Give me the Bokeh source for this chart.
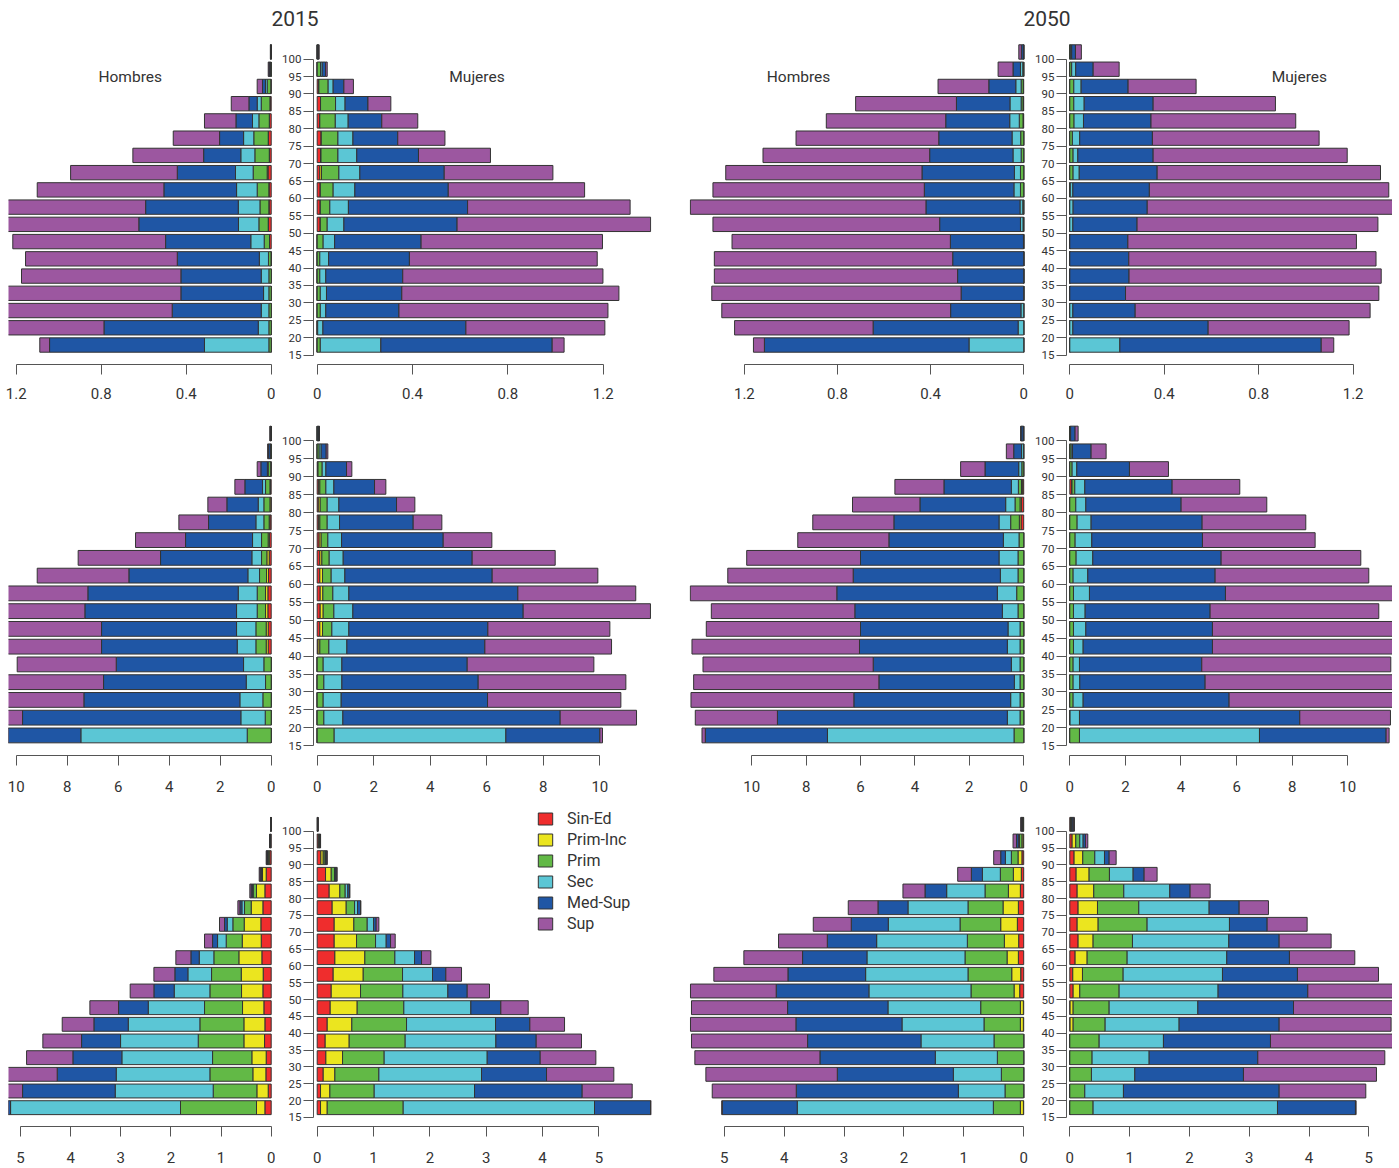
import numpy as np
from bokeh.plotting import figure
from bokeh.models import Range1d, FixedTicker, Label, Legend, LegendItem, ColumnDataSource
from bokeh.layouts import column, row
from bokeh.embed import file_html
from bokeh.resources import INLINE

# ---------------- data ----------------
ages = [15, 20, 25, 30, 35, 40, 45, 50, 55, 60, 65, 70, 75, 80, 85, 90, 95, 100]
educ = ["Sin-Ed", "Prim-Inc", "Prim", "Sec", "Med-Sup", "Sup"]
colors = ["#EF2D2D", "#EBE51F", "#62B946", "#5BC6D5", "#1F56A5", "#9C57A0"]

years = ["2015", "2050"]
sex_labels = ["Hombres", "Mujeres"]

# row 1 (scale 0-1.4)
r1_h2015 = {
    "Sin-Ed":   [0, 0, 0, 0, 0, 0.001, 0.008, 0.014, 0.011, 0.011, 0.015, 0.009, 0.014, 0.009, 0.006, 0.002, 0, 0],
    "Prim-Inc": [0, 0, 0, 0, 0, 0, 0, 0, 0, 0, 0.004, 0, 0, 0, 0, 0, 0, 0],
    "Prim":     [0.011, 0.011, 0.011, 0.011, 0.011, 0.012, 0.025, 0.044, 0.042, 0.055, 0.066, 0.068, 0.068, 0.049, 0.041, 0.017, 0.004, 0.001],
    "Sec":      [0.303, 0.050, 0.036, 0.025, 0.036, 0.043, 0.063, 0.096, 0.102, 0.097, 0.083, 0.066, 0.048, 0.030, 0.019, 0.008, 0.002, 0.001],
    "Med-Sup":  [0.729, 0.726, 0.419, 0.389, 0.378, 0.386, 0.401, 0.469, 0.436, 0.342, 0.274, 0.175, 0.113, 0.078, 0.039, 0.014, 0.004, 0.001],
    "Sup":      [0.046, 0.483, 0.824, 0.875, 0.750, 0.714, 0.719, 0.677, 0.729, 0.596, 0.502, 0.333, 0.218, 0.148, 0.083, 0.025, 0.004, 0.001],
}
r1_m2015 = {
    "Sin-Ed":   [0, 0, 0, 0, 0, 0, 0, 0.013, 0.013, 0.013, 0.011, 0.014, 0.017, 0.011, 0.014, 0.007, 0, 0],
    "Prim-Inc": [0, 0, 0, 0, 0, 0, 0, 0, 0, 0, 0.007, 0.002, 0, 0, 0, 0, 0, 0],
    "Prim":     [0.013, 0.002, 0.013, 0.013, 0.011, 0.011, 0.025, 0.029, 0.040, 0.054, 0.073, 0.071, 0.070, 0.065, 0.063, 0.039, 0.014, 0.002],
    "Sec":      [0.254, 0.022, 0.023, 0.026, 0.025, 0.037, 0.048, 0.070, 0.078, 0.091, 0.088, 0.079, 0.063, 0.054, 0.040, 0.021, 0.007, 0.001],
    "Med-Sup":  [0.719, 0.600, 0.307, 0.316, 0.323, 0.339, 0.363, 0.475, 0.500, 0.392, 0.354, 0.259, 0.188, 0.141, 0.096, 0.045, 0.014, 0.003],
    "Sup":      [0.050, 0.583, 0.877, 0.911, 0.840, 0.788, 0.761, 0.812, 0.682, 0.572, 0.456, 0.302, 0.198, 0.151, 0.096, 0.040, 0.007, 0.002],
}
r1_h2050 = {
    "Sin-Ed":   [0, 0, 0, 0, 0, 0, 0, 0, 0, 0, 0, 0, 0, 0.003, 0.003, 0.002, 0, 0],
    "Prim-Inc": [0, 0, 0, 0, 0, 0, 0, 0, 0, 0, 0, 0, 0, 0, 0, 0, 0, 0],
    "Prim":     [0, 0, 0, 0, 0, 0, 0, 0.003, 0.004, 0.014, 0.014, 0.011, 0.013, 0.016, 0.008, 0.009, 0.004, 0],
    "Sec":      [0.235, 0.024, 0.012, 0, 0, 0, 0.001, 0.011, 0.012, 0.028, 0.026, 0.035, 0.037, 0.041, 0.048, 0.023, 0.010, 0.002],
    "Med-Sup":  [0.879, 0.623, 0.302, 0.269, 0.284, 0.305, 0.314, 0.347, 0.404, 0.385, 0.397, 0.358, 0.315, 0.275, 0.230, 0.116, 0.032, 0.008],
    "Sup":      [0.047, 0.595, 0.983, 1.071, 1.045, 1.024, 0.938, 0.974, 1.012, 0.908, 0.843, 0.716, 0.613, 0.513, 0.433, 0.218, 0.064, 0.011],
}
r1_m2050 = {
    "Sin-Ed":   [0, 0, 0, 0, 0, 0, 0, 0, 0, 0, 0, 0, 0, 0, 0, 0, 0, 0],
    "Prim-Inc": [0, 0, 0, 0, 0, 0, 0, 0, 0, 0, 0, 0, 0, 0, 0, 0, 0, 0],
    "Prim":     [0, 0, 0, 0, 0, 0, 0, 0, 0, 0.002, 0.014, 0.014, 0.011, 0.018, 0.017, 0.017, 0.008, 0.004],
    "Sec":      [0.212, 0.013, 0.013, 0, 0, 0, 0, 0.013, 0.014, 0.011, 0.026, 0.020, 0.031, 0.040, 0.044, 0.031, 0.017, 0.004],
    "Med-Sup":  [0.853, 0.573, 0.264, 0.236, 0.251, 0.250, 0.246, 0.272, 0.314, 0.324, 0.330, 0.319, 0.308, 0.286, 0.292, 0.199, 0.074, 0.016],
    "Sup":      [0.053, 0.597, 0.995, 1.073, 1.068, 1.047, 0.968, 1.020, 1.072, 1.014, 0.946, 0.822, 0.706, 0.613, 0.518, 0.288, 0.110, 0.025],
}

# row 2 (scale 0-12)
r2_h2015 = {
    "Sin-Ed":   [0, 0, 0, 0, 0, 0.118, 0.118, 0.131, 0.131, 0.105, 0.08, 0.07, 0.05, 0.01, 0.03, 0.01, 0, 0],
    "Prim-Inc": [0, 0, 0, 0, 0, 0.078, 0.078, 0.091, 0.091, 0.078, 0.09, 0.05, 0.03, 0.04, 0.02, 0.01, 0, 0],
    "Prim":     [0.941, 0.235, 0.327, 0.222, 0.288, 0.405, 0.405, 0.327, 0.327, 0.275, 0.209, 0.259, 0.208, 0.238, 0.172, 0.098, 0.03, 0.01],
    "Sec":      [6.523, 0.955, 0.902, 0.758, 0.797, 0.732, 0.758, 0.810, 0.745, 0.457, 0.379, 0.353, 0.313, 0.222, 0.118, 0.032, 0.01, 0.01],
    "Med-Sup":  [3.036, 8.562, 6.117, 5.595, 4.993, 5.321, 5.295, 5.948, 5.896, 4.667, 3.582, 2.627, 1.857, 1.229, 0.693, 0.255, 0.07, 0.02],
    "Sup":      [0.1, 1.148, 3.454, 4.125, 3.883, 3.946, 3.846, 3.593, 3.61, 3.594, 3.23, 1.961, 1.163, 0.745, 0.392, 0.144, 0.03, 0.01],
}
r2_m2015 = {
    "Sin-Ed":   [0, 0, 0, 0, 0, 0.03, 0.094, 0.106, 0.106, 0.094, 0.094, 0.07, 0.05, 0.04, 0.05, 0.02, 0, 0],
    "Prim-Inc": [0, 0, 0, 0, 0, 0.064, 0.095, 0.106, 0.094, 0.095, 0.071, 0.07, 0.044, 0.066, 0.044, 0.01, 0, 0],
    "Prim":     [0.601, 0.236, 0.212, 0.236, 0.212, 0.319, 0.330, 0.378, 0.354, 0.306, 0.260, 0.237, 0.260, 0.248, 0.213, 0.147, 0.07, 0.02],
    "Sec":      [6.074, 0.672, 0.637, 0.637, 0.661, 0.637, 0.601, 0.672, 0.566, 0.484, 0.495, 0.484, 0.436, 0.413, 0.283, 0.130, 0.07, 0.02],
    "Med-Sup":  [3.325, 7.689, 5.177, 4.823, 4.434, 4.882, 4.918, 6.026, 5.979, 5.212, 4.563, 3.597, 2.606, 2.040, 1.438, 0.731, 0.178, 0.03],
    "Sup":      [0.094, 2.700, 4.717, 5.224, 4.481, 4.481, 4.316, 4.502, 4.171, 3.738, 2.937, 1.721, 1.014, 0.648, 0.401, 0.188, 0.059, 0.01],
}
r2_h2050 = {
    "Sin-Ed":   [0, 0, 0, 0, 0, 0, 0, 0, 0, 0, 0, 0, 0.1, 0.086, 0.04, 0, 0, 0],
    "Prim-Inc": [0, 0, 0, 0, 0, 0, 0, 0, 0, 0, 0, 0, 0.06, 0.049, 0.04, 0, 0, 0],
    "Prim":     [0.356, 0.135, 0.135, 0.135, 0.135, 0.135, 0.135, 0.209, 0.258, 0.209, 0.209, 0.172, 0.319, 0.184, 0.116, 0.07, 0.01, 0.01],
    "Sec":      [6.859, 0.466, 0.344, 0.209, 0.319, 0.466, 0.442, 0.576, 0.711, 0.650, 0.699, 0.576, 0.429, 0.344, 0.258, 0.114, 0.07, 0.01],
    "Med-Sup":  [4.491, 8.454, 5.766, 4.981, 5.080, 5.436, 5.423, 5.424, 5.902, 5.411, 5.092, 4.209, 3.865, 3.153, 2.479, 1.239, 0.288, 0.08],
    "Sup":      [0.122, 3.019, 5.988, 6.810, 6.257, 6.159, 5.67, 5.276, 5.387, 4.61, 4.184, 3.35, 2.982, 2.478, 1.803, 0.896, 0.27, 0.01],
}
r2_m2050 = {
    "Sin-Ed":   [0, 0, 0, 0, 0, 0, 0, 0, 0, 0, 0, 0, 0, 0, 0.07, 0, 0, 0],
    "Prim-Inc": [0, 0, 0, 0, 0, 0, 0, 0, 0, 0, 0, 0, 0, 0, 0.01, 0, 0, 0],
    "Prim":     [0.348, 0.01, 0.12, 0.12, 0.12, 0.132, 0.132, 0.132, 0.132, 0.12, 0.228, 0.192, 0.264, 0.216, 0.10, 0.084, 0.05, 0.02],
    "Sec":      [6.475, 0.338, 0.360, 0.24, 0.228, 0.348, 0.444, 0.420, 0.575, 0.527, 0.599, 0.599, 0.503, 0.360, 0.36, 0.168, 0.046, 0.01],
    "Med-Sup":  [4.556, 7.925, 5.251, 4.508, 4.400, 4.652, 4.556, 4.496, 4.893, 4.581, 4.617, 3.981, 3.993, 3.429, 3.141, 1.894, 0.671, 0.16],
    "Sup":      [0.108, 3.262, 5.969, 6.932, 6.799, 6.668, 6.768, 6.067, 6.2, 5.527, 5.024, 4.053, 3.729, 3.081, 2.434, 1.403, 0.54, 0.11],
}

# row 3 (scale 0-6)
r3_h2015 = {
    "Sin-Ed":   [0.126, 0.06, 0.106, 0.1, 0.133, 0.126, 0.146, 0.166, 0.160, 0.186, 0.199, 0.206, 0.166, 0.126, 0.1, 0.03, 0.01, 0.002],
    "Prim-Inc": [0.167, 0.226, 0.260, 0.286, 0.412, 0.419, 0.426, 0.426, 0.438, 0.459, 0.379, 0.333, 0.233, 0.167, 0.073, 0.02, 0.005, 0.002],
    "Prim":     [1.516, 0.871, 0.857, 0.784, 0.911, 0.878, 0.758, 0.631, 0.592, 0.499, 0.320, 0.226, 0.133, 0.067, 0.017, 0.02, 0.005, 0.002],
    "Sec":      [3.390, 1.955, 1.869, 1.809, 1.549, 1.429, 1.123, 0.712, 0.472, 0.292, 0.172, 0.113, 0.053, 0.010, 0.01, 0.01, 0.005, 0.002],
    "Med-Sup":  [0.101, 1.848, 1.177, 0.977, 0.778, 0.685, 0.592, 0.405, 0.260, 0.166, 0.100, 0.053, 0.040, 0.030, 0.02, 0.01, 0.003, 0.001],
    "Sup":      [0, 0.34, 1.081, 0.924, 0.772, 0.632, 0.572, 0.473, 0.418, 0.300, 0.160, 0.100, 0.040, 0.026, 0.019, 0.01, 0.002, 0.001],
}
r3_m2015 = {
    "Sin-Ed":   [0.059, 0.059, 0.107, 0.154, 0.142, 0.178, 0.231, 0.249, 0.284, 0.314, 0.302, 0.302, 0.266, 0.213, 0.148, 0.065, 0.02, 0.003],
    "Prim-Inc": [0.119, 0.166, 0.207, 0.296, 0.426, 0.437, 0.479, 0.520, 0.533, 0.532, 0.396, 0.349, 0.249, 0.189, 0.101, 0.042, 0.01, 0.003],
    "Prim":     [1.349, 0.787, 0.781, 0.739, 0.994, 0.971, 0.828, 0.752, 0.698, 0.533, 0.338, 0.237, 0.148, 0.095, 0.059, 0.033, 0.015, 0.003],
    "Sec":      [3.396, 1.781, 1.822, 1.829, 1.610, 1.580, 1.190, 0.799, 0.532, 0.349, 0.189, 0.112, 0.053, 0.047, 0.012, 0.010, 0.005, 0.002],
    "Med-Sup":  [0.994, 1.911, 1.154, 0.941, 0.716, 0.609, 0.532, 0.343, 0.237, 0.124, 0.077, 0.047, 0.053, 0.030, 0.020, 0.020, 0.005, 0.002],
    "Sup":      [0.013, 0.888, 1.195, 0.988, 0.804, 0.616, 0.486, 0.396, 0.278, 0.166, 0.083, 0.048, 0.006, 0.006, 0.015, 0.008, 0.005, 0.002],
}
r3_h2050 = {
    "Sin-Ed":   [0.005, 0, 0, 0, 0, 0.006, 0.006, 0.067, 0.05, 0.089, 0.084, 0.106, 0.089, 0.056, 0.04, 0.03, 0.01, 0.005],
    "Prim-Inc": [0.051, 0, 0, 0, 0, 0.050, 0.050, 0.094, 0.15, 0.189, 0.239, 0.278, 0.256, 0.200, 0.133, 0.065, 0.02, 0.005],
    "Prim":     [0.451, 0.312, 0.373, 0.440, 0.496, 0.607, 0.662, 0.719, 0.730, 0.702, 0.618, 0.679, 0.585, 0.390, 0.217, 0.111, 0.04, 0.01],
    "Sec":      [3.274, 0.779, 0.802, 1.036, 1.219, 1.369, 1.548, 1.704, 1.709, 1.637, 1.514, 1.198, 1.002, 0.640, 0.300, 0.100, 0.02, 0.01],
    "Med-Sup":  [1.252, 2.706, 1.937, 1.926, 1.893, 1.771, 1.676, 1.548, 1.297, 1.075, 0.824, 0.618, 0.501, 0.362, 0.184, 0.078, 0.03, 0.01],
    "Sup":      [0.007, 1.403, 2.194, 2.088, 1.938, 1.760, 1.604, 1.431, 1.237, 0.980, 0.814, 0.634, 0.496, 0.368, 0.228, 0.117, 0.058, 0.01],
}
r3_m2050 = {
    "Sin-Ed":   [0, 0, 0, 0, 0, 0.005, 0.005, 0.056, 0.05, 0.089, 0.139, 0.123, 0.139, 0.123, 0.106, 0.072, 0.039, 0.01],
    "Prim-Inc": [0, 0, 0, 0, 0, 0.051, 0.051, 0.111, 0.162, 0.201, 0.251, 0.351, 0.324, 0.278, 0.217, 0.145, 0.061, 0.01],
    "Prim":     [0.390, 0.251, 0.362, 0.373, 0.491, 0.535, 0.602, 0.658, 0.680, 0.669, 0.658, 0.819, 0.691, 0.502, 0.340, 0.201, 0.067, 0.01],
    "Sec":      [3.083, 0.646, 0.725, 0.954, 1.075, 1.237, 1.483, 1.655, 1.661, 1.666, 1.611, 1.377, 1.176, 0.769, 0.396, 0.162, 0.056, 0.01],
    "Med-Sup":  [1.304, 2.604, 1.817, 1.817, 1.790, 1.673, 1.600, 1.500, 1.254, 1.048, 0.842, 0.630, 0.502, 0.340, 0.184, 0.078, 0.039, 0.02],
    "Sup":      [0.011, 1.449, 2.224, 2.124, 2.094, 1.872, 1.759, 1.570, 1.355, 1.093, 0.869, 0.669, 0.490, 0.335, 0.217, 0.117, 0.039, 0.018],
}

x_ticks_r1 = [0, 0.4, 0.8, 1.2]
x_ticks_r2 = [0, 2, 4, 6, 8, 10]
x_ticks_r3 = [0, 1, 2, 3, 4, 5]

# ---------------- styling / layout ----------------
FONT = "Roboto"
TXT = "#333333"
AXC = "#555555"
EDGE = "#333333"
PAGE_PAD = 8

TICK_STEP = 1.2118          # barplot units between 5-year axis labels
K = 5.0 / TICK_STEP          # age units per barplot unit
Y0 = 15 - 0.656 * K
Y1 = 15 + 22.456 * K
bar_centers = [15 + (0.7 + 1.2 * i) * K for i in range(len(ages))]
bar_h = 1.0 * K

FRAME_W = [267, 338, 339, 326]
BORDER_LR = [(PAGE_PAD, 0), (38, 19), (19, 0), (38, 0)]
ROW_FH = [332, 342, 321]
ROW_TB = [(0, 45), (4, 45), (5, 42)]
ROW_STANDOFF = [13, 15, 15]

x_ranges = [
    [(1.2362, -0.0202), (-0.01552, 1.4027), (1.4357, -0.02062), (-0.01398, 1.3668)],
    [(10.302, -0.1686), (-0.1309, 11.827), (12.287, -0.1765), (-0.1187, 11.608)],
    [(5.2404, -0.0858), (-0.0657, 5.9347), (5.5793, -0.0801), (-0.0552, 5.3963)],
]
row_ticks = [x_ticks_r1, x_ticks_r2, x_ticks_r3]
row_data = [
    [r1_h2015, r1_m2015, r1_h2050, r1_m2050],
    [r2_h2015, r2_m2015, r2_h2050, r2_m2050],
    [r3_h2015, r3_m2015, r3_h2050, r3_m2050],
]
sex_label_pos = [121.7, 163.5, 109.0, 232.8]


def make_panel(ri, ci):
    female = ci % 2 == 1
    data = row_data[ri][ci]
    bl, br = BORDER_LR[ci]
    bt, bb = ROW_TB[ri]
    p = figure(frame_width=FRAME_W[ci], frame_height=ROW_FH[ri],
               x_range=Range1d(*x_ranges[ri][ci]), y_range=Range1d(Y0, Y1),
               output_backend="svg", toolbar_location=None,
               y_axis_location="left" if female else None,
               min_border_left=bl, min_border_right=br,
               min_border_top=bt, min_border_bottom=bb)
    p.outline_line_color = None
    p.grid.visible = False
    p.background_fill_color = "white"

    cum = np.zeros(len(ages))
    rends = []
    for e, c in zip(educ, colors):
        v = np.array(data[e], dtype=float)
        src = ColumnDataSource(dict(y=bar_centers, left=cum.copy(), right=cum + v,
                                    age=ages, value=v))
        r = p.hbar(y="y", left="left", right="right", height=bar_h, source=src,
                   fill_color=c, line_color=EDGE, line_width=1)
        rends.append(r)
        cum = cum + v

    ticks = row_ticks[ri]
    ax = p.xaxis[0]
    ax.ticker = FixedTicker(ticks=ticks)
    ax.bounds = (min(ticks), max(ticks))
    ax.major_tick_out = 10
    ax.major_tick_in = 0
    ax.minor_tick_out = 0
    ax.minor_tick_in = 0
    ax.axis_line_color = AXC
    ax.major_tick_line_color = AXC
    ax.major_label_text_font = FONT
    ax.major_label_text_font_size = "15px"
    ax.major_label_text_color = TXT
    ax.major_label_standoff = ROW_STANDOFF[ri]

    if female:
        ay = p.yaxis[0]
        ay.ticker = FixedTicker(ticks=ages)
        ay.bounds = (15, 100)
        ay.major_tick_out = 10
        ay.major_tick_in = 0
        ay.minor_tick_out = 0
        ay.minor_tick_in = 0
        ay.axis_line_color = AXC
        ay.major_tick_line_color = AXC
        ay.major_label_text_font = FONT
        ay.major_label_text_font_size = "11.5px"
        ay.major_label_text_color = TXT
        ay.major_label_standoff = 2

    if ri == 0:
        p.add_layout(Label(x=sex_label_pos[ci], y=287.7, x_units="screen", y_units="screen",
                           text=sex_labels[ci % 2], text_align="center", text_baseline="middle",
                           text_font=FONT, text_font_size="15.5px", text_color=TXT))

    if ri == 2 and ci == 1:
        items = [LegendItem(label=e, renderers=[r]) for e, r in zip(educ, rends)]
        leg = Legend(items=items, location=(223, 193), orientation="vertical",
                     glyph_width=18, glyph_height=15, label_standoff=13,
                     label_height=20, spacing=1, padding=0, margin=0,
                     border_line_alpha=0, background_fill_alpha=0,
                     label_text_font=FONT, label_text_font_size="16px",
                     label_text_color=TXT)
        p.add_layout(leg)
    return p


header = figure(frame_width=sum(FRAME_W) + sum(a + b for a, b in BORDER_LR) - PAGE_PAD,
                frame_height=24,
                x_range=Range1d(0, 1), y_range=Range1d(0, 1),
                x_axis_location=None, y_axis_location=None,
                min_border_left=PAGE_PAD, min_border_top=PAGE_PAD,
                min_border_right=0, min_border_bottom=0,
                output_backend="svg", toolbar_location=None)
header.outline_line_color = None
header.grid.visible = False
for yr, xpos in zip(years, [286.5, 1038.5]):
    header.add_layout(Label(x=xpos, y=14.3, x_units="screen", y_units="screen", text=yr,
                            text_align="center", text_baseline="middle",
                            text_font=FONT, text_font_size="21px", text_color=TXT))

rows = [row([make_panel(ri, ci) for ci in range(4)], spacing=0) for ri in range(3)]
layout = column([header] + rows, spacing=0)

open("out.html", "w").write(file_html(layout, INLINE))
